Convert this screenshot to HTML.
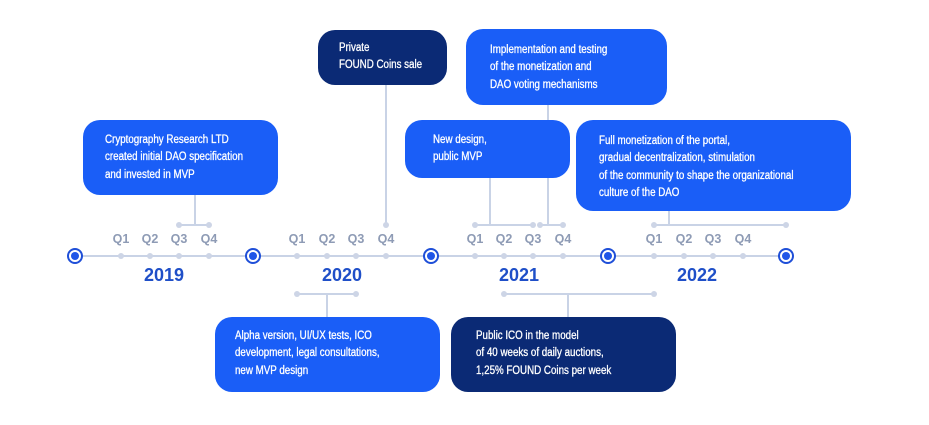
<!DOCTYPE html>
<html><head><meta charset="utf-8"><style>
html,body{margin:0;padding:0;background:#fff;width:929px;height:425px;overflow:hidden;position:relative;font-family:"Liberation Sans",sans-serif}
.b{position:absolute;border-radius:17px;background:#1a5ef7;color:#fff}
.n{background:#0b2a75}
.t{position:absolute;font-size:11.5px;line-height:17.3px;white-space:nowrap;transform:scaleX(0.85);transform-origin:0 0;font-weight:normal;-webkit-text-stroke:0.3px #fff}
.l{position:absolute;background:#c9d3e6}
.d{position:absolute;width:6px;height:6px;border-radius:50%;background:#cdd5e6;margin:-3px 0 0 -3px}
.c{position:absolute;width:12px;height:12px;border:2px solid #1f4fd8;border-radius:50%;margin:-8px 0 0 -8px;background:#fff}
.c:after{content:"";position:absolute;left:2px;top:2px;width:8px;height:8px;border-radius:50%;background:#1f55e8}
.q{position:absolute;font-size:12.5px;color:#8e9bb5;font-weight:bold;top:232px;transform:translateX(-50%)}
.y{position:absolute;font-size:18px;color:#1f4fc8;font-weight:bold;top:265px;transform:translateX(-50%)}
</style></head><body>
<div class="l" style="left:75px;top:255px;width:711px;height:2px"></div>
<div class="l" style="left:179px;top:224px;width:30px;height:2px"></div>
<div class="l" style="left:194px;top:195px;width:2px;height:30px"></div>
<div class="l" style="left:385px;top:85px;width:2px;height:140px"></div>
<div class="l" style="left:475px;top:224px;width:58px;height:2px"></div>
<div class="l" style="left:489px;top:178px;width:2px;height:47px"></div>
<div class="l" style="left:540px;top:224px;width:23px;height:2px"></div>
<div class="l" style="left:547px;top:105px;width:2px;height:120px"></div>
<div class="l" style="left:654px;top:224px;width:132px;height:2px"></div>
<div class="l" style="left:668px;top:211px;width:2px;height:14px"></div>
<div class="l" style="left:297px;top:293px;width:59px;height:2px"></div>
<div class="l" style="left:326px;top:294px;width:2px;height:23px"></div>
<div class="l" style="left:504px;top:293px;width:150px;height:2px"></div>
<div class="l" style="left:567px;top:294px;width:2px;height:23px"></div>
<div class="d" style="left:179px;top:225px"></div><div class="d" style="left:209px;top:225px"></div>
<div class="d" style="left:386px;top:225px"></div>
<div class="d" style="left:475px;top:225px"></div><div class="d" style="left:533px;top:225px"></div>
<div class="d" style="left:540px;top:225px"></div><div class="d" style="left:563px;top:225px"></div>
<div class="d" style="left:654px;top:225px"></div><div class="d" style="left:786px;top:225px"></div>
<div class="d" style="left:297px;top:294px"></div><div class="d" style="left:356px;top:294px"></div>
<div class="d" style="left:504px;top:294px"></div><div class="d" style="left:654px;top:294px"></div>
<div class="d" style="left:121px;top:256px"></div><div class="d" style="left:150px;top:256px"></div><div class="d" style="left:179px;top:256px"></div><div class="d" style="left:209px;top:256px"></div>
<div class="d" style="left:297px;top:256px"></div><div class="d" style="left:327px;top:256px"></div><div class="d" style="left:356px;top:256px"></div><div class="d" style="left:386px;top:256px"></div>
<div class="d" style="left:475px;top:256px"></div><div class="d" style="left:504px;top:256px"></div><div class="d" style="left:533px;top:256px"></div><div class="d" style="left:563px;top:256px"></div>
<div class="d" style="left:654px;top:256px"></div><div class="d" style="left:684px;top:256px"></div><div class="d" style="left:713px;top:256px"></div><div class="d" style="left:743px;top:256px"></div>
<div class="c" style="left:75px;top:256px"></div>
<div class="c" style="left:253px;top:256px"></div>
<div class="c" style="left:431px;top:256px"></div>
<div class="c" style="left:608px;top:256px"></div>
<div class="c" style="left:786px;top:256px"></div>
<div class="q" style="left:121px">Q1</div><div class="q" style="left:150px">Q2</div><div class="q" style="left:179px">Q3</div><div class="q" style="left:209px">Q4</div>
<div class="q" style="left:297px">Q1</div><div class="q" style="left:327px">Q2</div><div class="q" style="left:356px">Q3</div><div class="q" style="left:386px">Q4</div>
<div class="q" style="left:475px">Q1</div><div class="q" style="left:504px">Q2</div><div class="q" style="left:533px">Q3</div><div class="q" style="left:563px">Q4</div>
<div class="q" style="left:654px">Q1</div><div class="q" style="left:684px">Q2</div><div class="q" style="left:713px">Q3</div><div class="q" style="left:743px">Q4</div>
<div class="y" style="left:164px">2019</div>
<div class="y" style="left:342px">2020</div>
<div class="y" style="left:519px">2021</div>
<div class="y" style="left:697px">2022</div>
<div class="b" style="left:83px;top:120px;width:195px;height:75px"><div class="t" style="left:22px;top:12px">Cryptography Research LTD<br>created initial DAO specification<br>and invested in MVP</div></div>
<div class="b n" style="left:318px;top:30px;width:129px;height:55px"><div class="t" style="left:21px;top:10px">Private<br>FOUND Coins sale</div></div>
<div class="b" style="left:466px;top:29px;width:201px;height:76px"><div class="t" style="left:24px;top:13px">Implementation and testing<br>of the monetization and<br>DAO voting mechanisms</div></div>
<div class="b" style="left:405px;top:120px;width:165px;height:58px"><div class="t" style="left:28px;top:12px">New design,<br>public MVP</div></div>
<div class="b" style="left:576px;top:120px;width:275px;height:91px"><div class="t" style="left:23px;top:13px">Full monetization of the portal,<br>gradual decentralization, stimulation<br>of the community to shape the organizational<br>culture of the DAO</div></div>
<div class="b" style="left:215px;top:317px;width:225px;height:75px"><div class="t" style="left:20px;top:11px">Alpha version, UI/UX tests, ICO<br>development, legal consultations,<br>new MVP design</div></div>
<div class="b n" style="left:451px;top:317px;width:225px;height:75px"><div class="t" style="left:25px;top:11px">Public ICO in the model<br>of 40 weeks of daily auctions,<br>1,25% FOUND Coins per week</div></div>
</body></html>
